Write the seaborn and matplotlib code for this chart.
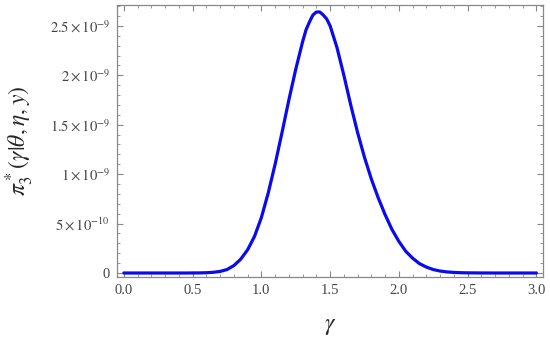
import numpy as np
import pandas as pd
import matplotlib
matplotlib.use("Agg")
import matplotlib.pyplot as plt
import seaborn as sns
from matplotlib.ticker import MultipleLocator

# values (density in units of 1e-9)
gamma = [0.00, 0.05, 0.10, 0.15, 0.20, 0.25, 0.30, 0.35, 0.40, 0.45,
         0.50, 0.55, 0.60, 0.65, 0.70, 0.75, 0.80, 0.85, 0.90, 0.95,
         1.00, 1.05, 1.10, 1.15, 1.20, 1.25, 1.30, 1.325, 1.35, 1.375,
         1.40, 1.425, 1.45, 1.475, 1.50, 1.55, 1.60, 1.65, 1.70, 1.75,
         1.80, 1.85, 1.90, 1.95, 2.00, 2.05, 2.10, 2.15, 2.20, 2.25,
         2.30, 2.35, 2.40, 2.45, 2.50, 2.60, 2.70, 2.80, 2.90, 3.00]
dens = [0, 0, 0, 0, 0, 0, 0, 0, 0, 0,
        0.0005, 0.001, 0.003, 0.007, 0.016, 0.035, 0.075, 0.14, 0.235, 0.37,
        0.56, 0.81, 1.10, 1.42, 1.75, 2.06, 2.34, 2.46, 2.54, 2.61,
        2.64, 2.64, 2.61, 2.57, 2.50, 2.28, 2.00, 1.70, 1.42, 1.17,
        0.95, 0.76, 0.59, 0.44, 0.32, 0.22, 0.15, 0.095, 0.06, 0.035,
        0.02, 0.011, 0.006, 0.003, 0.0015, 0.0005, 0, 0, 0, 0]
yticks = [0, 0.5, 1.0, 1.5, 2.0, 2.5]
ytick_labels = ["0", r"$5\times10^{-10}$", r"$1\times10^{-9}$",
                r"$1.5\times10^{-9}$", r"$2\times10^{-9}$", r"$2.5\times10^{-9}$"]

df = pd.DataFrame({"gamma": gamma, "dens": dens})

sns.set_style("ticks")
plt.rcParams["font.family"] = ["Liberation Serif", "DejaVu Serif"]
plt.rcParams["mathtext.fontset"] = "stix"

fig = plt.figure(figsize=(5.5, 3.39), dpi=100)
ax = fig.add_axes([0.2127, 0.183, 0.775, 0.802])

sns.lineplot(data=df, x="gamma", y="dens", color="#0a0af0", linewidth=2.3, ax=ax)

ax.set_xlim(-0.05, 3.05)
ax.set_ylim(-0.04, 2.71)
ax.set_xticks([0, 0.5, 1.0, 1.5, 2.0, 2.5, 3.0])
ax.set_xticklabels(["0.0", "0.5", "1.0", "1.5", "2.0", "2.5", "3.0"])
ax.xaxis.set_minor_locator(MultipleLocator(0.1))
ax.set_yticks(yticks)
ax.set_yticklabels(ytick_labels)
ax.yaxis.set_minor_locator(MultipleLocator(0.1))

for s in ax.spines.values():
    s.set_color("#888888")
    s.set_linewidth(0.9)
ax.tick_params(which="both", direction="in", top=True, right=True,
               color="#888888", labelcolor="#444444", labelsize=10.5)
ax.tick_params(which="major", length=4, width=0.8, pad=5)
ax.tick_params(which="minor", length=2, width=0.6)

ax.set_xlabel(r"$\gamma$", fontsize=17, labelpad=14)
ax.set_ylabel(r"$\pi_3^*(\gamma|\theta,\eta,y)$", fontsize=17, labelpad=10)

fig.savefig("out.png", dpi=100)
